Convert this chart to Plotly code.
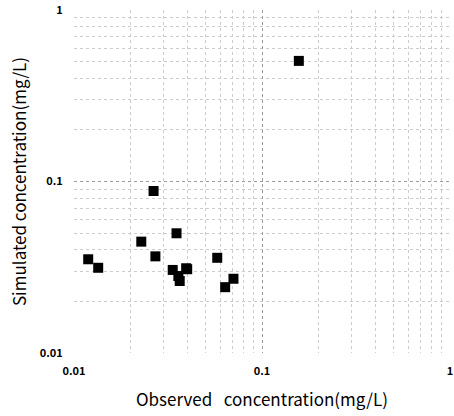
import plotly.graph_objects as go

# observed vs simulated concentration (mg/L)
observed = [0.0119, 0.01345, 0.0228, 0.0265, 0.0271, 0.0351, 0.0335, 0.0359,
            0.0365, 0.0395, 0.0400, 0.0578, 0.0637, 0.0705, 0.157]
simulated = [0.0352, 0.0314, 0.0446, 0.088, 0.0366, 0.0499, 0.0305, 0.0281,
             0.0263, 0.0312, 0.0308, 0.0359, 0.0242, 0.0271, 0.505]

tick_vals = [0.01, 0.1, 1]
tick_text = ["<b>0.01</b>", "<b>0.1</b>", "<b>1</b>"]

font = "Noto Sans CJK KR, DejaVu Sans, sans-serif"

fig = go.Figure()
fig.add_trace(go.Scatter(
    x=observed, y=simulated, mode="markers",
    marker=dict(symbol="square", size=10, color="black"),
    showlegend=False, cliponaxis=False,
))

axis_common = dict(
    type="log", automargin=False, ticklabeloverflow="allow",
    tickvals=tick_vals, ticktext=tick_text,
    showgrid=True, gridcolor="#9a9a9a", griddash="dot", gridwidth=1,
    minor=dict(showgrid=True, gridcolor="#cccccc", griddash="dot",
               gridwidth=1, dtick="D1"),
    showline=False, zeroline=False,
    ticks="outside", ticklen=8, tickcolor="rgba(0,0,0,0)",
    tickfont=dict(size=11, color="black", family=font),
)

fig.update_xaxes(range=[-2, 0],
                 title=dict(text="Observed\u00a0\u00a0\u00a0concentration(mg/L)",
                            font=dict(size=17, color="black", family=font), standoff=16),
                 **axis_common)
fig.update_yaxes(range=[-2, 0],
                 title=dict(text="Simulated concentration(mg/L)",
                            font=dict(size=17, color="black", family=font), standoff=8),
                 **axis_common)

fig.update_layout(
    width=454, height=416,
    margin=dict(l=74, r=4, t=10, b=63),
    plot_bgcolor="white", paper_bgcolor="white",
    font=dict(family=font, color="black"),
)

# drop the default body margin so the figure fills the window with no scrollbars
fig.write_html("out.html", config={"displayModeBar": False},
               post_script="document.body.style.margin='0';"
                           "document.body.style.overflow='hidden';")
